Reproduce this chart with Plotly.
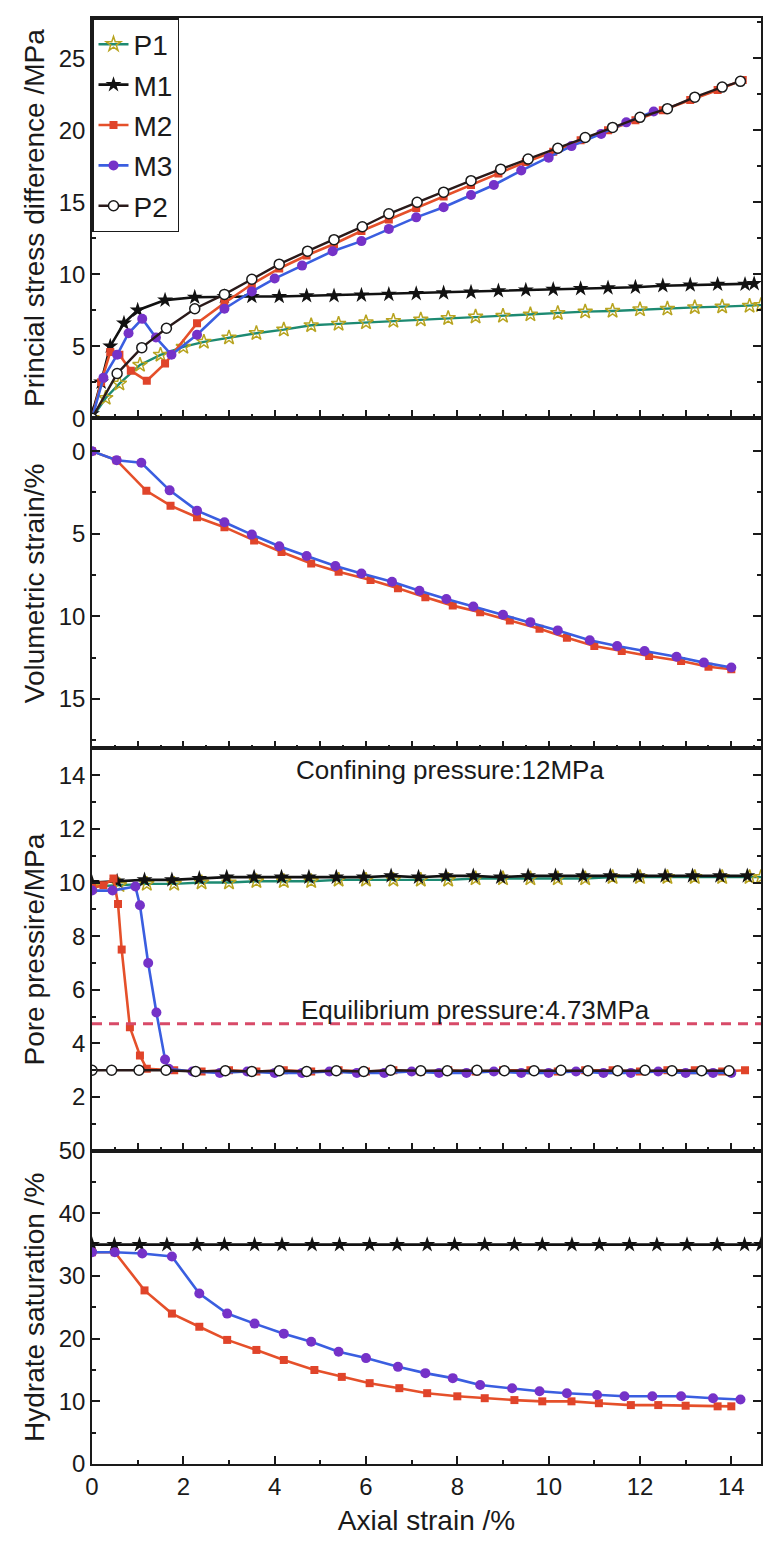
import plotly.graph_objects as go
from plotly.subplots import make_subplots

# ---------------- data ----------------
# Panel 1: principal stress difference (MPa) vs axial strain (%)
p1_stress_x = [0, 0.3, 0.6, 1.05, 1.5, 2.0, 2.45, 3.0, 3.6, 4.2, 4.8, 5.4, 6.0, 6.6, 7.2, 7.8,
               8.4, 9.0, 9.6, 10.2, 10.8, 11.4, 12.0, 12.6, 13.2, 13.8, 14.4, 14.65]
p1_stress_y = [0, 1.4, 2.4, 3.7, 4.4, 4.95, 5.3, 5.6, 5.9, 6.15, 6.45, 6.55, 6.65, 6.75, 6.85, 6.95,
               7.05, 7.1, 7.2, 7.3, 7.4, 7.45, 7.55, 7.6, 7.7, 7.75, 7.8, 7.85]

m1_stress_x = [0, 0.2, 0.4, 0.7, 1.0, 1.6, 2.25, 2.9, 3.5, 4.1, 4.7, 5.3, 5.9, 6.5, 7.1, 7.7,
               8.3, 8.9, 9.5, 10.1, 10.7, 11.3, 11.9, 12.5, 13.1, 13.7, 14.3, 14.5]
m1_stress_y = [0.3, 2.5, 5.0, 6.6, 7.5, 8.2, 8.4, 8.45, 8.45, 8.45, 8.5, 8.5, 8.55, 8.6, 8.65, 8.7,
               8.75, 8.85, 8.9, 8.95, 9.0, 9.05, 9.1, 9.2, 9.25, 9.3, 9.3, 9.35]

m2_stress_x = [0, 0.2, 0.4, 0.6, 0.85, 1.2, 1.6, 2.3, 2.9, 3.5, 4.1, 4.7, 5.3, 5.9, 6.5, 7.1,
               7.7, 8.3, 8.9, 9.5, 10.1, 10.7, 11.3, 11.9, 12.5, 13.1, 13.7, 14.25]
m2_stress_y = [0, 2.5, 4.6, 4.4, 3.3, 2.6, 3.8, 6.6, 8.0, 9.3, 10.4, 11.3, 12.1, 13.0, 13.8, 14.6,
               15.4, 16.2, 17.0, 17.8, 18.5, 19.3, 20.0, 20.7, 21.4, 22.1, 22.8, 23.5]

m3_stress_x = [0, 0.25, 0.55, 0.8, 1.1, 1.4, 1.74, 2.3, 2.9, 3.5, 4.0, 4.6, 5.27, 5.9, 6.5, 7.1,
               7.7, 8.3, 8.8, 9.4, 10.0, 10.5, 11.15, 11.7, 12.3]
m3_stress_y = [0, 2.8, 4.4, 5.9, 6.9, 5.6, 4.4, 5.8, 7.6, 8.8, 9.7, 10.6, 11.6, 12.3, 13.15, 13.95,
               14.65, 15.5, 16.2, 17.2, 18.1, 18.9, 19.75, 20.55, 21.3]

p2_stress_x = [0, 0.55, 1.09, 1.63, 2.25, 2.9, 3.5, 4.1, 4.72, 5.3, 5.92, 6.5, 7.12, 7.7, 8.3,
               8.95, 9.55, 10.2, 10.8, 11.4, 12.0, 12.6, 13.2, 13.8, 14.2]
p2_stress_y = [0, 3.1, 4.9, 6.25, 7.6, 8.6, 9.65, 10.7, 11.6, 12.4, 13.3, 14.2, 15.0, 15.7, 16.5,
               17.3, 18.0, 18.75, 19.5, 20.2, 20.9, 21.5, 22.3, 23.0, 23.4]

# Panel 2: volumetric strain (%) - hydrate-bearing samples only
m2_vol_x = [0, 0.54, 1.19, 1.72, 2.3, 2.9, 3.55, 4.15, 4.8, 5.4, 6.1, 6.7, 7.3, 7.9, 8.5, 9.15,
            9.8, 10.4, 11.0, 11.6, 12.2, 12.9, 13.5, 14.0]
m2_vol_y = [0, 0.55, 2.4, 3.3, 4.0, 4.6, 5.4, 6.1, 6.8, 7.3, 7.8, 8.3, 8.85, 9.35, 9.75, 10.25,
            10.75, 11.3, 11.8, 12.1, 12.4, 12.7, 13.05, 13.2]

m3_vol_x = [0, 0.54, 1.08, 1.7, 2.3, 2.9, 3.5, 4.1, 4.7, 5.33, 5.9, 6.57, 7.17, 7.76, 8.35, 9.0,
            9.6, 10.2, 10.9, 11.5, 12.1, 12.8, 13.4, 14.0]
m3_vol_y = [0, 0.55, 0.7, 2.37, 3.6, 4.3, 5.05, 5.75, 6.35, 6.95, 7.4, 7.9, 8.45, 8.95, 9.4, 9.9,
            10.35, 10.85, 11.45, 11.8, 12.1, 12.45, 12.8, 13.1]

# Panel 3: pore pressure (MPa)
p1_pore_x = [0, 0.6, 1.2, 1.8, 2.4, 3.0, 3.6, 4.2, 4.8, 5.4, 6.0, 6.6, 7.2, 7.8, 8.4, 9.0,
             9.6, 10.2, 10.8, 11.4, 12.0, 12.6, 13.2, 13.8, 14.4, 14.65]
p1_pore_y = [9.85, 9.9, 9.95, 9.95, 10.0, 10.0, 10.05, 10.05, 10.05, 10.1, 10.1, 10.1, 10.1, 10.1,
             10.15, 10.15, 10.15, 10.15, 10.15, 10.2, 10.2, 10.2, 10.2, 10.2, 10.2, 10.2]

m1_pore_x = [0, 0.55, 1.15, 1.75, 2.35, 2.95, 3.55, 4.15, 4.75, 5.35, 5.95, 6.55, 7.15, 7.75,
             8.35, 8.95, 9.55, 10.15, 10.75, 11.35, 11.95, 12.55, 13.15, 13.75, 14.35]
m1_pore_y = [10.0, 10.05, 10.1, 10.1, 10.15, 10.2, 10.2, 10.2, 10.2, 10.2, 10.2, 10.25, 10.2,
             10.25, 10.25, 10.2, 10.25, 10.25, 10.25, 10.25, 10.25, 10.25, 10.25, 10.25, 10.25]

m2_pore_x = [0, 0.25, 0.47, 0.57, 0.65, 0.83, 1.05, 1.2, 1.8, 2.4, 3.0, 3.6, 4.2, 4.8, 5.4,
             6.0, 6.6, 7.2, 7.8, 8.4, 9.0, 9.6, 10.2, 10.8, 11.4, 12.0, 12.6, 13.2, 13.8, 14.3]
m2_pore_y = [9.8, 9.9, 10.15, 9.2, 7.5, 4.6, 3.55, 3.05, 3.0, 2.95, 3.0, 2.95, 3.0, 2.95, 3.0,
             2.95, 3.0, 2.95, 3.0, 2.95, 3.0, 3.0, 2.95, 3.0, 3.0, 2.95, 3.0, 3.0, 2.95, 3.0]

m3_pore_x = [0, 0.45, 0.95, 1.05, 1.23, 1.41, 1.6, 1.68, 2.2, 2.8, 3.4, 4.0, 4.6, 5.2, 5.8,
             6.4, 7.0, 7.6, 8.2, 8.8, 9.4, 10.0, 10.6, 11.2, 11.8, 12.4, 13.0, 13.6, 14.0]
m3_pore_y = [9.7, 9.7, 9.85, 9.15, 7.0, 5.15, 3.4, 3.05, 2.95, 2.9, 2.95, 2.9, 2.9, 2.95, 2.9,
             2.9, 2.95, 2.9, 2.9, 2.95, 2.9, 2.9, 2.95, 2.9, 2.9, 2.95, 2.9, 2.9, 2.9]

p2_pore_x = [0, 0.43, 1.03, 1.62, 2.27, 2.92, 3.5, 4.1, 4.7, 5.35, 5.95, 6.54, 7.2, 7.78, 8.43,
             9.03, 9.68, 10.27, 10.86, 11.51, 12.11, 12.7, 13.35, 13.95]
p2_pore_y = [3.0, 3.0, 3.0, 3.0, 2.95, 2.98, 2.95, 2.98, 2.95, 2.98, 2.95, 3.0, 2.98, 2.98, 3.0,
             2.98, 2.98, 3.0, 2.98, 2.98, 3.0, 2.98, 2.98, 2.98]

# Panel 4: hydrate saturation (%)
m1_sat_x = [0, 0.49, 1.04, 1.64, 2.3, 2.9, 3.56, 4.16, 4.82, 5.42, 6.08, 6.68, 7.34, 7.94, 8.6,
            9.25, 9.86, 10.51, 11.11, 11.77, 12.37, 13.03, 13.69, 14.29, 14.65]
m1_sat_y = [35.0] * 25

m2_sat_x = [0, 0.5, 1.15, 1.75, 2.35, 2.96, 3.6, 4.2, 4.87, 5.47, 6.08, 6.73, 7.34, 8.0, 8.6,
            9.25, 9.86, 10.5, 11.1, 11.8, 12.4, 13.0, 13.7, 14.0]
m2_sat_y = [33.8, 33.8, 27.7, 24.0, 21.9, 19.8, 18.2, 16.6, 15.0, 13.9, 12.9, 12.1, 11.3, 10.8,
            10.5, 10.2, 10.0, 10.0, 9.7, 9.4, 9.4, 9.3, 9.2, 9.2]

m3_sat_x = [0, 0.5, 1.1, 1.75, 2.35, 2.96, 3.56, 4.2, 4.8, 5.4, 6.0, 6.7, 7.3, 7.9, 8.5, 9.2,
            9.8, 10.4, 11.06, 11.66, 12.27, 12.9, 13.6, 14.2]
m3_sat_y = [33.8, 33.8, 33.6, 33.1, 27.2, 24.0, 22.4, 20.8, 19.5, 17.9, 16.9, 15.5, 14.5, 13.7,
            12.6, 12.1, 11.6, 11.3, 11.0, 10.8, 10.8, 10.8, 10.5, 10.3]

CONFINING_PRESSURE = 12      # MPa
EQUILIBRIUM_PRESSURE = 4.73  # MPa

# ---------------- styles ----------------
FONT = "Liberation Sans, Arial, sans-serif"
INK = "#1a1a1a"
styles = {
    "P1": dict(line=dict(color="#1d8a72", width=2.4),
               marker=dict(symbol="star-open", size=11, color="#b8a420", line=dict(width=1.5))),
    "M1": dict(line=dict(color="#111111", width=2.6),
               marker=dict(symbol="star", size=12, color="#111111")),
    "M2": dict(line=dict(color="#e5502a", width=2.6),
               marker=dict(symbol="square", size=8, color="#e0442a")),
    "M3": dict(line=dict(color="#3a5ee0", width=2.6),
               marker=dict(symbol="circle", size=10, color="#7532c8")),
    "P2": dict(line=dict(color="#2a1a1a", width=2.4),
               marker=dict(symbol="circle", size=10, color="white",
                           line=dict(color=INK, width=1.5))),
}

fig = make_subplots(rows=4, cols=1, shared_xaxes=True, vertical_spacing=0,
                    row_heights=[401, 331, 403, 314])


def add(name, x, y, row, legend=False):
    fig.add_trace(go.Scatter(x=x, y=y, mode="lines+markers", name=name,
                             legendgroup=name, showlegend=legend, **styles[name]),
                  row=row, col=1)


# stress
add("P1", p1_stress_x, p1_stress_y, 1, True)
add("M1", m1_stress_x, m1_stress_y, 1, True)
add("M2", m2_stress_x, m2_stress_y, 1, True)
add("M3", m3_stress_x, m3_stress_y, 1, True)
add("P2", p2_stress_x, p2_stress_y, 1, True)
# volumetric strain
add("M2", m2_vol_x, m2_vol_y, 2)
add("M3", m3_vol_x, m3_vol_y, 2)
# pore pressure
add("P1", p1_pore_x, p1_pore_y, 3)
add("M1", m1_pore_x, m1_pore_y, 3)
add("M2", m2_pore_x, m2_pore_y, 3)
add("M3", m3_pore_x, m3_pore_y, 3)
add("P2", p2_pore_x, p2_pore_y, 3)
# hydrate saturation
add("M1", m1_sat_x, m1_sat_y, 4)
add("M2", m2_sat_x, m2_sat_y, 4)
add("M3", m3_sat_x, m3_sat_y, 4)

# equilibrium pressure reference line
fig.add_shape(type="line", xref="x3 domain", yref="y3", x0=0, x1=1,
              y0=EQUILIBRIUM_PRESSURE, y1=EQUILIBRIUM_PRESSURE,
              line=dict(color="#d84a68", width=3, dash="10px,7px"))

fig.add_annotation(xref="x3", yref="y3", x=7.84, y=14.2,
                   text=f"Confining pressure:{CONFINING_PRESSURE}MPa", showarrow=False,
                   font=dict(family=FONT, size=26, color=INK))
fig.add_annotation(xref="x3", yref="y3", x=8.4, y=5.26,
                   text=f"Equilibrium pressure:{EQUILIBRIUM_PRESSURE}MPa", showarrow=False,
                   font=dict(family=FONT, size=26, color=INK))

axis_common = dict(showline=True, linecolor=INK, linewidth=1.5, ticks="inside",
                   tickcolor=INK, tickwidth=1.5, ticklen=8, showgrid=False, zeroline=False,
                   tickfont=dict(family=FONT, size=24, color=INK))
minor_common = dict(ticklen=4, ticks="inside", tickcolor=INK, tickwidth=1.5)

for r in (1, 2, 3, 4):
    xkw = dict(axis_common, range=[0, 14.65], mirror=True)
    if r < 4:
        xkw.update(dtick=1, tick0=0, showticklabels=False, minor=dict(minor_common, dtick=0.5))
    else:
        xkw.update(dtick=2, tick0=0, showticklabels=True, minor=dict(minor_common, dtick=1),
                   title=dict(text="Axial strain /%", font=dict(family=FONT, size=28, color=INK),
                              standoff=12))
    fig.update_xaxes(row=r, col=1, **xkw)

y_specs = {
    1: dict(range=[0, 27.8], dtick=5, minor_dtick=2.5, title="Princial stress difference /MPa"),
    2: dict(range=[18, -2], dtick=5, minor_dtick=2.5, title="Volumetric strain/%"),
    3: dict(range=[0, 15], dtick=2, minor_dtick=1, title="Pore pressire/MPa"),
    4: dict(range=[0, 50], dtick=10, minor_dtick=5, title="Hydrate saturation /%"),
}
for r, s in y_specs.items():
    fig.update_yaxes(row=r, col=1, **axis_common, mirror="ticks", range=s["range"],
                     dtick=s["dtick"], tick0=0, minor=dict(minor_common, dtick=s["minor_dtick"]),
                     title=dict(text=s["title"], font=dict(family=FONT, size=28, color=INK),
                                standoff=6))

# the pore-pressure "0" sits on the same spot as the saturation "50"; label it once
pore_ticks = list(range(0, 15, 2))
fig.update_yaxes(row=3, col=1, tickmode="array", tickvals=pore_ticks,
                 ticktext=["" if v == 0 else str(v) for v in pore_ticks])

fig.update_layout(
    width=767, height=1543,
    margin=dict(l=92, r=4, t=15, b=79),
    paper_bgcolor="white", plot_bgcolor="white",
    font=dict(family=FONT, color=INK),
    legend=dict(x=0, y=1, xanchor="left", yanchor="top", bgcolor="white",
                bordercolor=INK, borderwidth=1.5, tracegroupgap=1,
                font=dict(family=FONT, size=28, color=INK)),
)

fig.write_html("out.html")
